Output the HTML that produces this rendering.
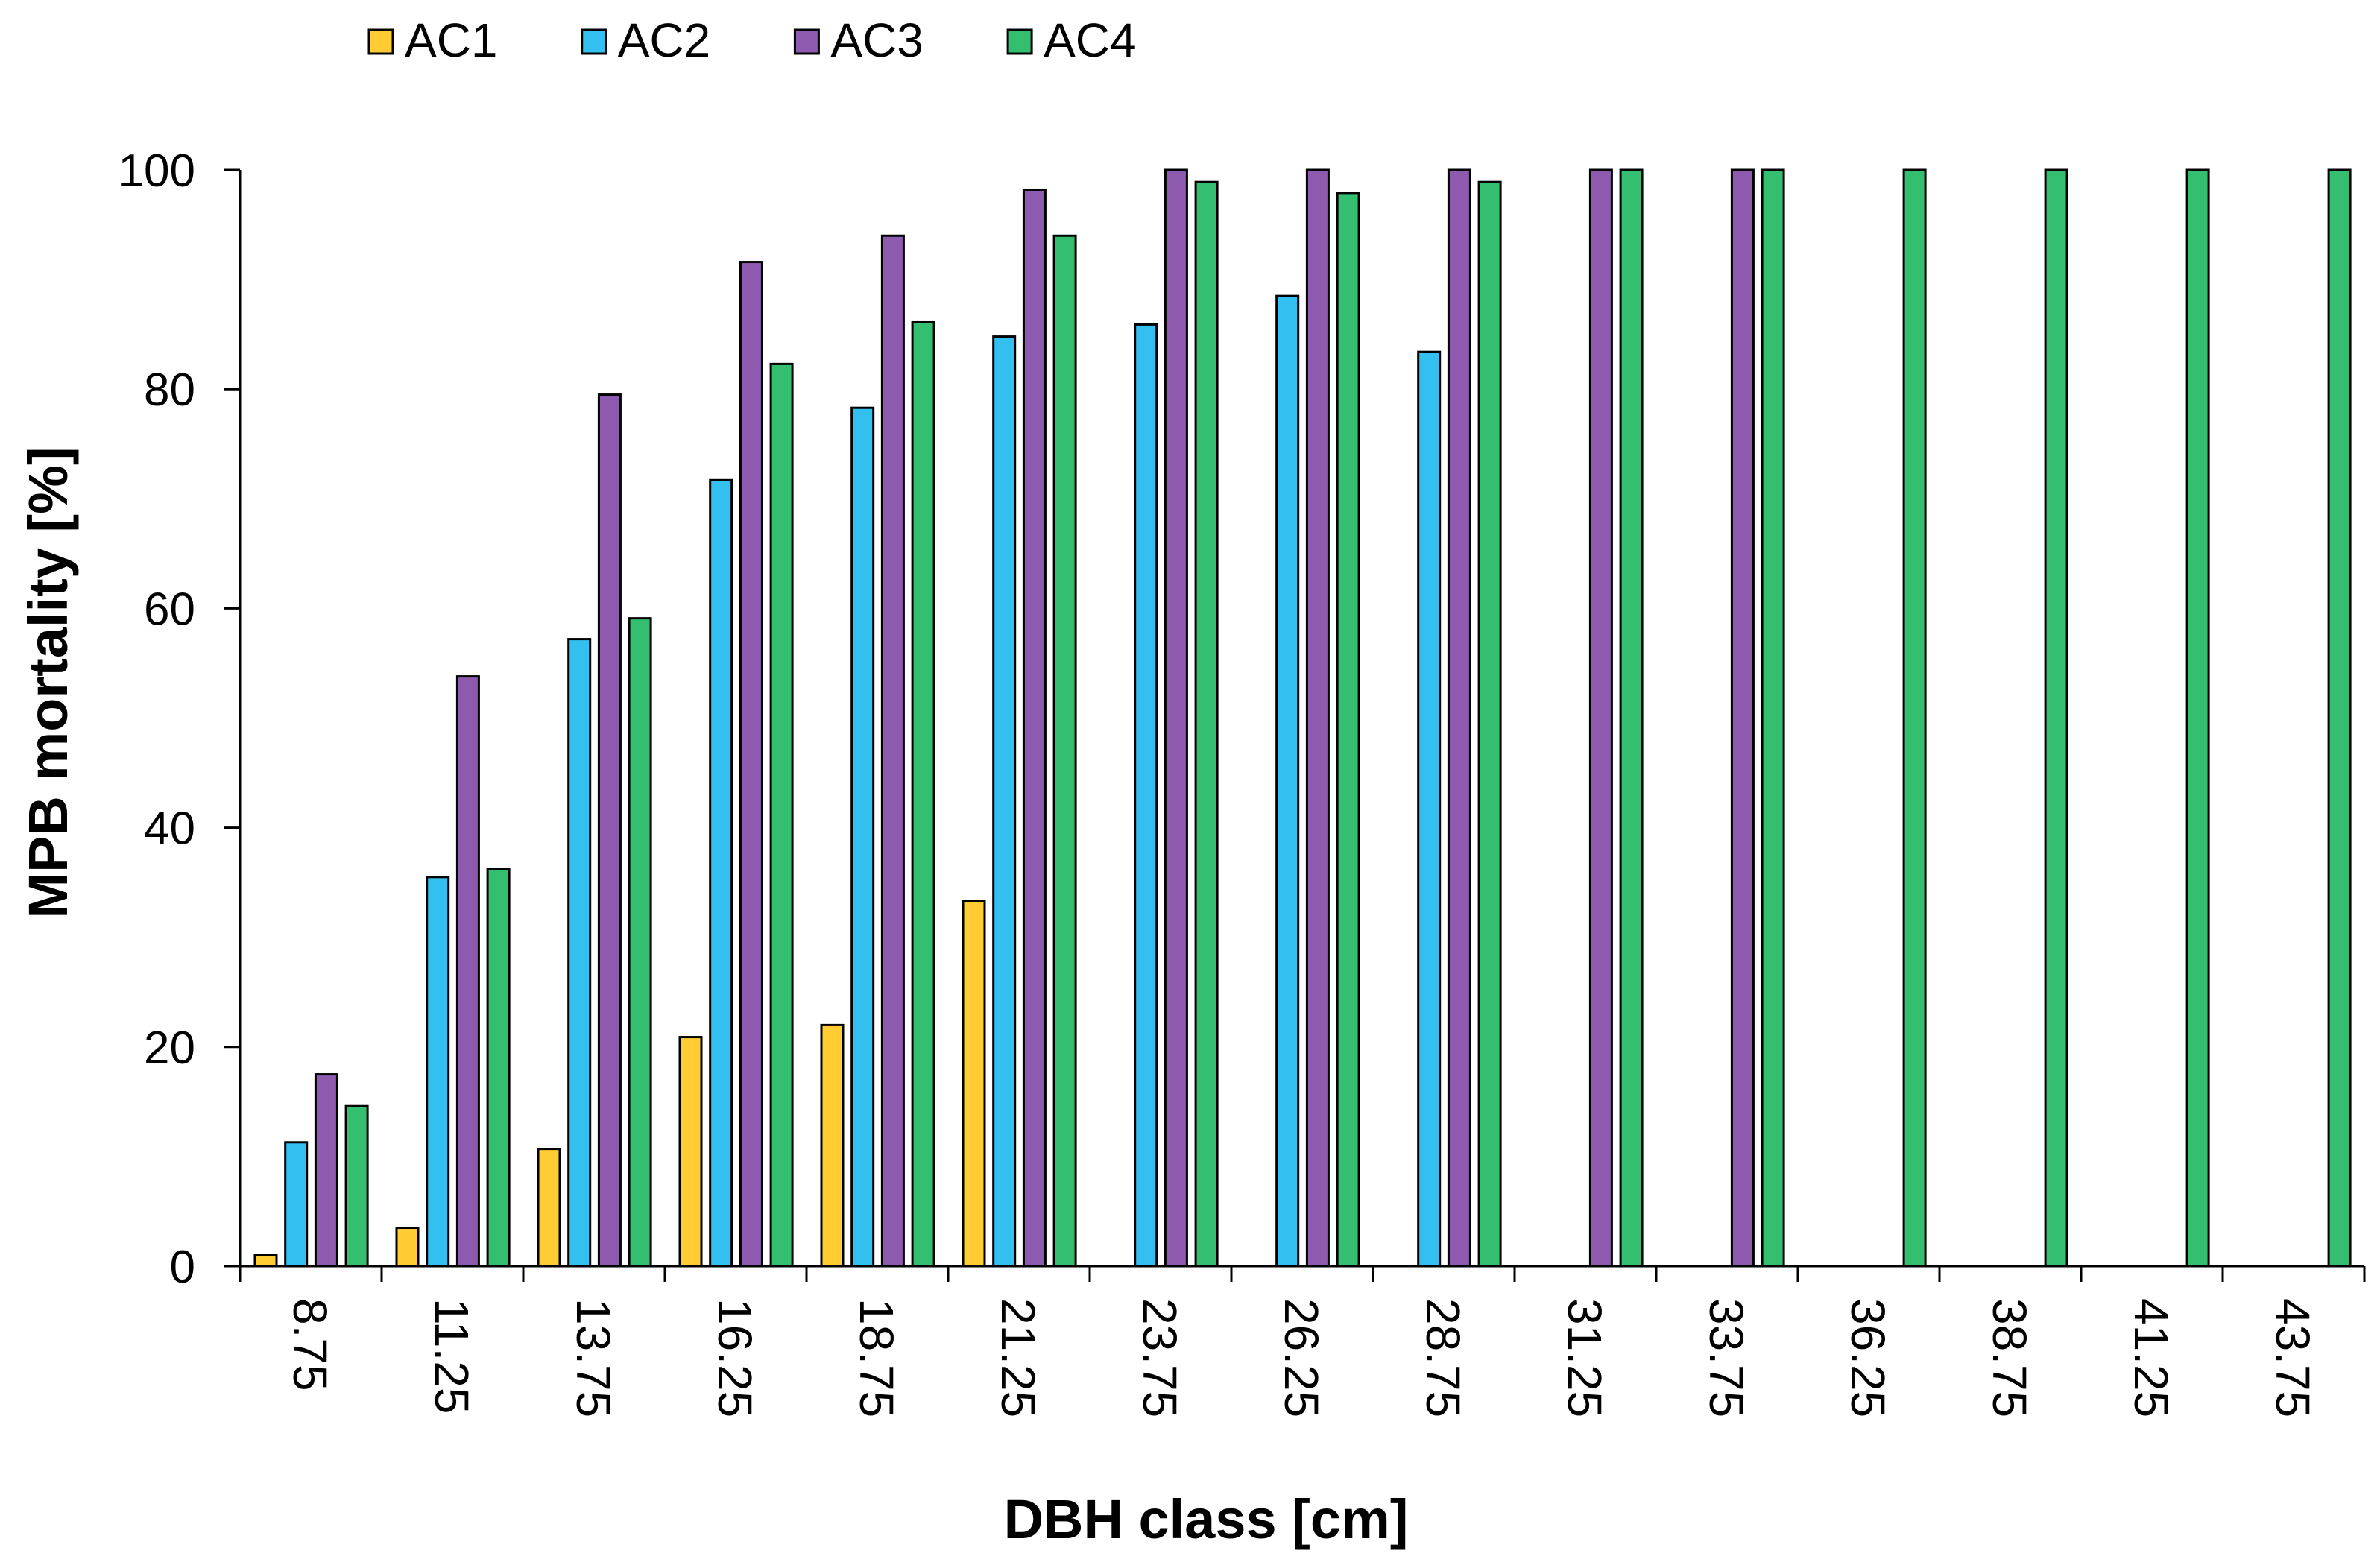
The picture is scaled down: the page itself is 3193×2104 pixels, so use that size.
<!DOCTYPE html>
<html><head><meta charset="utf-8"><style>
html,body{margin:0;padding:0;background:#fff;}
svg{display:block;font-family:"Liberation Sans",Arial,sans-serif;}
</style></head><body>
<svg id="chart" width="3193" height="2104" viewBox="0 0 3193 2104" xmlns="http://www.w3.org/2000/svg">
<g id="legend"></g>
<g id="bars"></g>
<g id="axes"></g>
<text transform="translate(90,916) rotate(-90)" text-anchor="middle" font-size="74" font-weight="bold">MPB mortality [%]</text>
<text x="1618" y="2064" text-anchor="middle" font-size="74" font-weight="bold">DBH class [cm]</text>
</svg>
<script>
const categories = ["8.75","11.25","13.75","16.25","18.75","21.25","23.75","26.25","28.75","31.25","33.75","36.25","38.75","41.25","43.75"];
const seriesNames = ["AC1","AC2","AC3","AC4"];
const ac1 = [1.0,3.5,10.7,20.9,22.0,33.3,null,null,null,null,null,null,null,null,null];
const ac2 = [11.3,35.5,57.2,71.7,78.3,84.8,85.9,88.5,83.4,null,null,null,null,null,null];
const ac3 = [17.5,53.8,79.5,91.6,94.0,98.2,100,100,100,100,100,null,null,null,null];
const ac4 = [14.6,36.2,59.1,82.3,86.1,94.0,98.9,97.9,98.9,100,100,100,100,100,100];
const yTicks = [0,20,40,60,80,100];

const colors = ["#FFCC33","#33BFF0","#8E5AAF","#33BF6F"];
const series = [ac1,ac2,ac3,ac4];
const NS = "http://www.w3.org/2000/svg";
const X0 = 322, X1 = 3172, Y0 = 1699, Y100 = 228;
const catW = (X1 - X0) / categories.length;
function yScale(v){ return Y0 - (v/100)*(Y0 - Y100); }
function xCat(i){ return X0 + i*catW; }
function mk(tag, attrs, parent){ const e=document.createElementNS(NS,tag); for(const k in attrs) e.setAttribute(k,attrs[k]); parent.appendChild(e); return e; }

const bars = document.getElementById('bars');
const barW = 29, step = 40.7, off = 20;
series.forEach((s,si)=>{
  s.forEach((v,i)=>{
    if(v===null) return;
    const x = xCat(i) + off + si*step;
    const r = mk('rect',{x:x, y:yScale(v), width:barW, height:Y0-yScale(v), fill:colors[si], stroke:'#000', 'stroke-width':3}, bars);
    
    
  });
});

const axes = document.getElementById('axes');
const yl = mk('line',{x1:X0,y1:Y100,x2:X0,y2:Y0,stroke:'#000','stroke-width':3},axes);


const xl = mk('line',{x1:X0-22,y1:Y0,x2:X1,y2:Y0,stroke:'#000','stroke-width':3},axes);


yTicks.forEach(t=>{
  const y = yScale(t);
  mk('line',{x1:X0-22,y1:y,x2:X0,y2:y,stroke:'#000','stroke-width':3},axes);
  const tx = mk('text',{x:262,y:y+22,'text-anchor':'end','font-size':62},axes);
  tx.textContent = t;
  
  
});
for(let i=0;i<=categories.length;i++){
  mk('line',{x1:xCat(i),y1:Y0,x2:xCat(i),y2:Y0+21,stroke:'#000','stroke-width':3},axes);
}
categories.forEach((c,i)=>{
  const cx = xCat(i)+catW/2;
  const tx = mk('text',{transform:'translate('+(cx-23)+','+1742+') rotate(90)','font-size':64},axes);
  tx.textContent = c;
  
  
});

const legend = document.getElementById('legend');
seriesNames.forEach((n,si)=>{
  const lx = 495 + si*285.7;
  const g = mk('g',{},legend);
  
  
  mk('rect',{x:lx,y:40,width:32,height:32,fill:colors[si],stroke:'#000','stroke-width':3},g);
  const t = mk('text',{x:lx+48,y:76,'font-size':64},g);
  t.textContent = n;
});
</script>
</body></html>
